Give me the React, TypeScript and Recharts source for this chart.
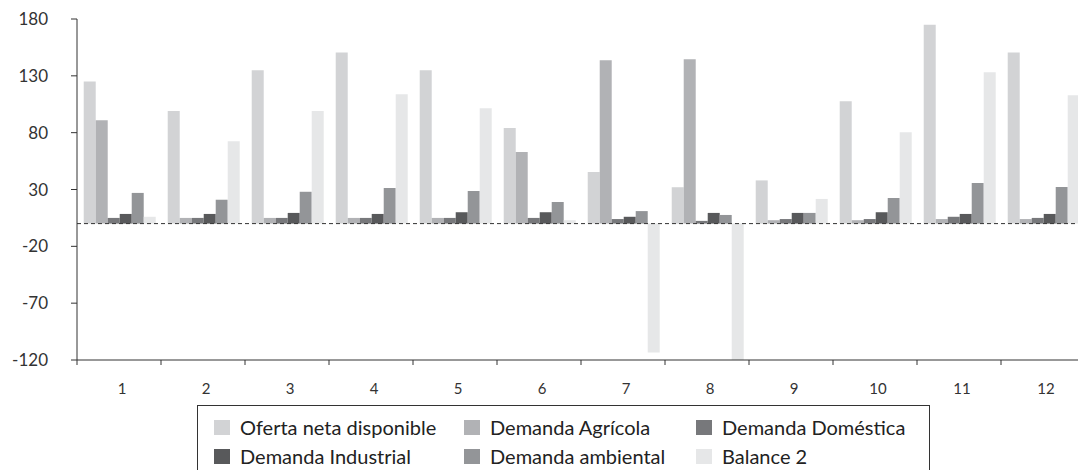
import { BarChart, Bar, XAxis, YAxis, ReferenceLine } from "recharts";

const categorias = ["1", "2", "3", "4", "5", "6", "7", "8", "9", "10", "11", "12"];

const oferta = [125, 99, 135, 150.6, 135, 84, 45.4, 32, 38, 107.6, 175, 150.6];
const agricola = [91, 5, 5, 5, 5, 63, 143.6, 144.5, 3, 3, 4, 4];
const domestica = [5, 5, 5, 5, 5, 5, 4, 2.4, 4, 4, 6, 5];
const industrial = [8.5, 8.5, 9.4, 8.5, 10, 10, 6, 9.4, 9.4, 10, 8.5, 8.5];
const ambiental = [27, 21, 28, 31.3, 28.7, 19, 11, 7.6, 9.4, 22.5, 35.7, 32.2];
const balance = [6, 72.5, 99, 113.8, 101.5, 3, -113.4, -120, 21.7, 80.4, 133.1, 113];

const yTicks = [180, 130, 80, 30, -20, -70, -120];

const series = [
  { key: "oferta", name: "Oferta neta disponible", color: "#d2d3d5", values: oferta },
  { key: "agricola", name: "Demanda Agrícola", color: "#b1b2b5", values: agricola },
  { key: "domestica", name: "Demanda Doméstica", color: "#77787b", values: domestica },
  { key: "industrial", name: "Demanda Industrial", color: "#58595b", values: industrial },
  { key: "ambiental", name: "Demanda ambiental", color: "#939598", values: ambiental },
  { key: "balance", name: "Balance 2", color: "#e6e7e8", values: balance },
];

const data = categorias.map((c, i) => {
  const row: Record<string, string | number> = { cat: c };
  series.forEach((s) => {
    row[s.key] = s.values[i];
  });
  return row;
});

const FONT = "Lato, 'Open Sans', sans-serif";

function CatTick(props: any) {
  const { x, y, payload, index } = props;
  const off = payload && payload.offset ? payload.offset : 42;
  return (
    <g>
      <line x1={x - off} y1={y} x2={x - off} y2={y + 5} stroke="#333" />
      {index === categorias.length - 1 && (
        <line x1={x + off} y1={y} x2={x + off} y2={y + 5} stroke="#333" />
      )}
      <text x={x + 3} y={y + 28} textAnchor="middle" dominantBaseline="central" fill="#333" fontSize={15} fontFamily={FONT}>
        {payload.value}
      </text>
    </g>
  );
}

export default function App() {
  return (
    <div style={{ position: "absolute", left: 0, top: 0, width: 1078, height: 470, overflow: "hidden", background: "#fff" }}>
      <BarChart
        width={1100}
        height={470}
        data={data}
        margin={{ top: 19, right: 15, bottom: 80, left: 0 }}
        barCategoryGap="8%"
        barGap={0}
      >
        <XAxis
          dataKey="cat"
          axisLine={{ stroke: "#333" }}
          tickLine={false}
          tickSize={0}
          tickMargin={0}
          height={30}
          interval={0}
          tick={<CatTick />}
        />
        <YAxis
          width={77}
          domain={[-120, 180]}
          ticks={yTicks}
          allowDataOverflow
          axisLine={{ stroke: "#333" }}
          tickLine={{ stroke: "#333" }}
          tickSize={6}
          tickMargin={23}
          tick={{ fill: "#333", fontSize: 17, fontFamily: FONT }}
        />
        {series.map((s) => (
          <Bar key={s.key} dataKey={s.key} name={s.name} fill={s.color} isAnimationActive={false} />
        ))}
        <ReferenceLine y={0} stroke="#333" strokeDasharray="4 3" />
      </BarChart>
      <div
        style={{
          position: "absolute",
          left: 197,
          top: 405,
          width: 733,
          height: 80,
          borderTop: "1px solid #333",
          borderLeft: "1px solid #333",
          borderRight: "1px solid #333",
          boxSizing: "border-box",
          fontFamily: FONT,
          fontSize: 20,
          color: "#222",
        }}
      >
        {series.map((s, i) => {
          const col = i % 3;
          const row = Math.floor(i / 3);
          const lefts = [16, 266, 498];
          return (
            <div
              key={s.key}
              style={{
                position: "absolute",
                left: lefts[col],
                top: 13 + row * 29,
                height: 16,
                display: "flex",
                alignItems: "center",
                whiteSpace: "nowrap",
              }}
            >
              <span style={{ display: "inline-block", width: 16, height: 15, background: s.color, marginRight: 10 }} />
              <span>{s.name}</span>
            </div>
          );
        })}
      </div>
    </div>
  );
}
